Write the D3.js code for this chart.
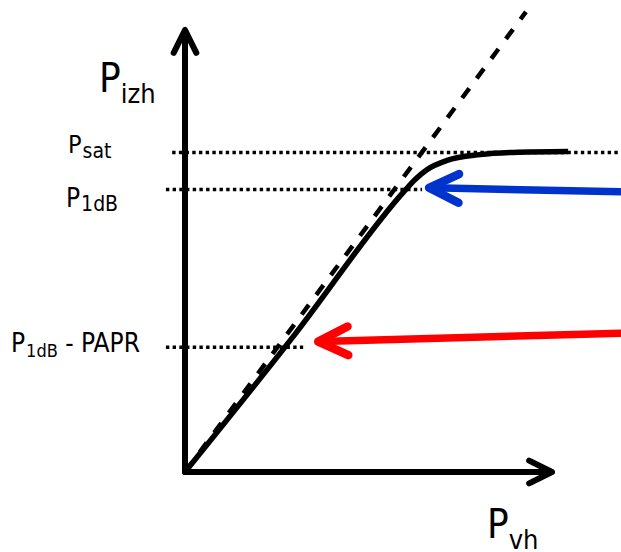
<!DOCTYPE html>
<html>
<head>
<meta charset="utf-8">
<script src="https://cdn.jsdelivr.net/npm/d3@7"></script>
<style>
  html, body { margin: 0; padding: 0; background: #fff; }
  svg { display: block; }
  text { font-family: "DejaVu Sans Condensed", "DejaVu Sans", sans-serif; fill: #000; }
</style>
</head>
<body>
<svg id="chart" width="621" height="552"></svg>
<script>
// ---- data (arbitrary power units) ----
const pinAmp = [0, 3.0, 5.94, 6.27, 6.59, 7.14, 8.04, 8.94, 10.44];
const poutAmp = [0, 3.12, 6.32, 6.62, 6.84, 7.05, 7.18, 7.23, 7.25];
const pinLinear = [0, 9.29];
const poutLinear = [0, 10.41];
const levelMain = ["P", "P", "P"];
const levelSub = ["sat", "1dB", "1dB"];
const levelSuffix = ["", "", " - PAPR"];
const levelValues = [7.23, 6.39, 2.82];
const levelFrom = [-0.35, -0.52, -0.52];
const levelTo = [11.9, 6.46, 3.22];
const arrowTail = [[11.9, 6.34], [11.9, 3.14]];
const arrowTip = [[6.65, 6.43], [3.63, 2.95]];
const arrowColors = ["#0033cc", "#ff0000"];
const axisMax = 10;

// ---- scales ----
const x = d3.scaleLinear().domain([0, axisMax]).range([185, 552]);
const y = d3.scaleLinear().domain([0, axisMax]).range([472, 30]);

const svg = d3.select("#chart");
svg.append("rect").attr("width", 621).attr("height", 552).attr("fill", "#fff");

function chevron(tx, ty, angle, len, spread) {
  const a1 = angle + Math.PI - spread, a2 = angle + Math.PI + spread;
  return `M${tx + len * Math.cos(a1)},${ty + len * Math.sin(a1)}L${tx},${ty}L${tx + len * Math.cos(a2)},${ty + len * Math.sin(a2)}`;
}

// dotted level lines
levelValues.forEach((v, i) => {
  svg.append("line")
    .attr("x1", x(levelFrom[i])).attr("x2", x(levelTo[i]))
    .attr("y1", y(v)).attr("y2", y(v))
    .attr("stroke", "#000").attr("stroke-width", 3.5)
    .attr("stroke-dasharray", "3.4,3.3");
});

// axes
const ax = svg.append("g").attr("fill", "none").attr("stroke", "#000")
  .attr("stroke-width", 6).attr("stroke-linecap", "round").attr("stroke-linejoin", "round");
ax.append("line").attr("x1", x(0)).attr("y1", y(0)).attr("x2", x(0)).attr("y2", y(axisMax) + 2);
ax.append("line").attr("x1", x(0)).attr("y1", y(0)).attr("x2", x(axisMax) - 2).attr("y2", y(0));
ax.append("path").attr("d", chevron(x(0), y(axisMax), -Math.PI / 2, 25.5, 0.46));
ax.append("path").attr("d", chevron(x(axisMax), y(0), 0, 25.5, 0.46));

// linear (ideal) dashed line
const line = d3.line().x(d => x(d[0])).y(d => y(d[1]));
svg.append("path")
  .attr("d", line(d3.zip(pinLinear, poutLinear)))
  .attr("fill", "none").attr("stroke", "#000").attr("stroke-width", 4.5)
  .attr("stroke-dasharray", "12,12.5");

// amplifier curve
svg.append("path")
  .attr("d", line.curve(d3.curveMonotoneX)(d3.zip(pinAmp, poutAmp)))
  .attr("fill", "none").attr("stroke", "#000").attr("stroke-width", 5.5)
  .attr("stroke-linecap", "butt");

// colored arrows
arrowTip.forEach((tip, i) => {
  const tx = x(tip[0]), ty = y(tip[1]);
  const sx = x(arrowTail[i][0]), sy = y(arrowTail[i][1]);
  const ang = Math.atan2(ty - sy, tx - sx);
  const g = svg.append("g").attr("fill", "none").attr("stroke", arrowColors[i])
    .attr("stroke-linecap", "round").attr("stroke-linejoin", "round");
  g.append("line").attr("x1", sx).attr("y1", sy).attr("x2", tx + 3 * Math.cos(ang + Math.PI)).attr("y2", ty + 3 * Math.sin(ang + Math.PI))
    .attr("stroke-width", 7.5);
  g.append("path").attr("d", chevron(tx, ty, ang, 33, 0.45)).attr("stroke-width", 8.5);
});

// level labels
const labelX = [68, 66, 11];
const labelSize = [25, 26, 26];
const subSize = [21, 21, 18];
const labelOffset = [1, 17, 5];
levelValues.forEach((v, i) => {
  const t = svg.append("text").attr("x", labelX[i]).attr("y", y(v) + labelOffset[i]).attr("font-size", labelSize[i]);
  t.append("tspan").text(levelMain[i]);
  t.append("tspan").attr("font-size", subSize[i]).attr("dx", 1).attr("dy", 4.5).text(levelSub[i]);
  if (levelSuffix[i]) t.append("tspan").attr("dy", -4.5).text(levelSuffix[i]);
});

// axis titles
const ty = svg.append("text").attr("x", 99).attr("y", 92).attr("font-size", 40);
ty.append("tspan").text("P");
ty.append("tspan").attr("font-size", 27).attr("dy", 11).text("izh");
const tx = svg.append("text").attr("x", 487).attr("y", 538).attr("font-size", 40);
tx.append("tspan").text("P");
tx.append("tspan").attr("font-size", 27).attr("dy", 11).text("vh");
</script>
</body>
</html>
